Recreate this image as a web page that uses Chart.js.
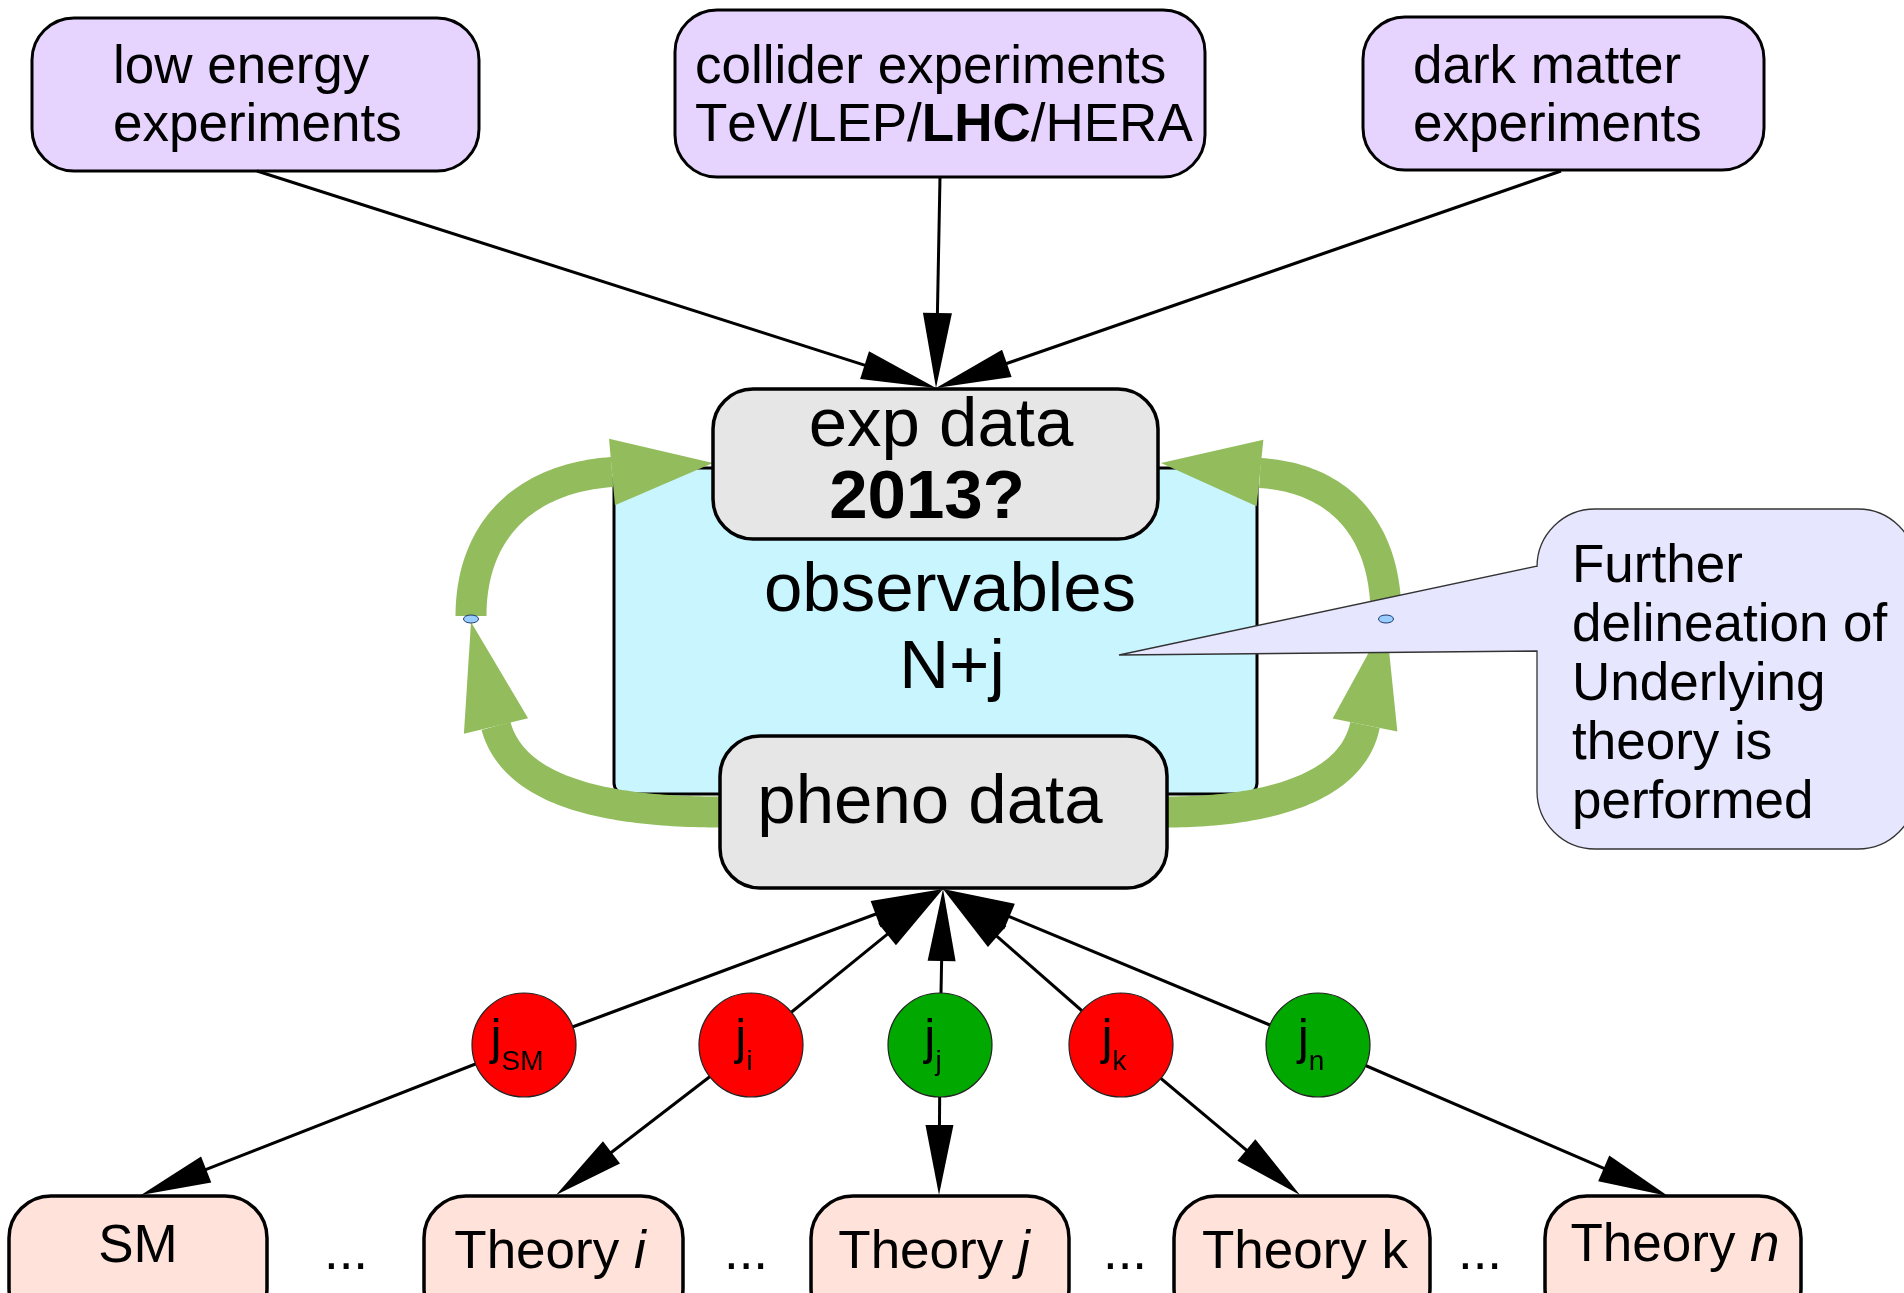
<!DOCTYPE html>
<html>
<head>
<meta charset="utf-8">
<title>exp data / pheno data</title>
<script src="https://cdn.jsdelivr.net/npm/chart.js@4.4.0/dist/chart.umd.min.js"></script>
<style>
  html, body { margin: 0; padding: 0; background: #fff; }
  #wrap { width: 1904px; height: 1293px; overflow: hidden; }
</style>
</head>
<body>
<div id="wrap"><canvas id="diagram" width="1904" height="1293"></canvas></div>
<script>
// text of the nodes (*bold*, _italic_)
var experiments = [['low energy', 'experiments'], ['collider experiments', 'TeV/LEP/*LHC*/HERA'], ['dark matter', 'experiments']];
var expData = ['exp data', '*2013?*'];
var observables = ['observables', 'N+j'];
var phenoData = ['pheno data'];
var note = ['Further', 'delineation of', 'Underlying', 'theory is', 'performed'];
var jets = ['SM', 'i', 'j', 'k', 'n'];
var jetAllowed = [false, false, true, false, true];
var theories = ['SM', 'Theory _i_', 'Theory _j_', 'Theory k', 'Theory _n_'];

// layout, in the chart's own units (x 0..1904, y 0..1293 downward)
var FONT = "'Liberation Sans', Arial, sans-serif";
var expBoxes = [[32, 18, 479, 171], [675, 10, 1205, 177], [1363, 17, 1764, 170]];
var expTextX = [113, 695, 1413];
var expFoot = [[257, 171], [940, 177], [1561, 171]];
var expTip = [936, 388];
var obsBox = [614, 468, 1257, 794];
var expBox = [713, 389, 1158, 539];
var phenoBox = [720, 736, 1167, 888];
var phenoTip = [943, 889];
var jetX = [524, 751, 940, 1121, 1318];
var jetY = 1045;
var theoryBoxes = [[9, 1196, 267, 1330], [424, 1196, 683, 1330], [811, 1196, 1069, 1330], [1174, 1196, 1430, 1330], [1545, 1196, 1801, 1330]];
var theoryTextX = [138, 550, 934, 1305, 1675];
var theoryBase = [1262, 1268, 1268, 1268, 1261];
var theoryTip = [[141, 1195], [556, 1195], [939, 1195], [1300, 1195], [1668, 1196]];
var dotsX = [346, 746, 1125, 1480];

var colors = {
  exp: '#e6d4ff', data: '#e6e6e6', obs: '#c9f5ff', note: '#e6e6ff',
  theory: '#ffe3da', green: '#93bd5d', red: '#ff0000', ok: '#00a800', knot: '#99ccff'
};

function runs(s) {
  return s.split(/(\*[^*]+\*|_[^_]+_)/).filter(function (p) { return p.length; }).map(function (p) {
    if (p[0] === '*') return { t: p.slice(1, -1), style: 'bold ' };
    if (p[0] === '_') return { t: p.slice(1, -1), style: 'italic ' };
    return { t: p, style: '' };
  });
}

function text(ctx, s, x, y, size, align) {
  var parts = runs(s), w = 0;
  ctx.fontKerning = 'none';
  parts.forEach(function (p) { ctx.font = p.style + size + 'px ' + FONT; p.w = ctx.measureText(p.t).width; w += p.w; });
  var cx = align === 'left' ? x : x - w / 2;
  ctx.textAlign = 'left';
  ctx.textBaseline = 'alphabetic';
  ctx.fillStyle = '#000';
  parts.forEach(function (p) { ctx.font = p.style + size + 'px ' + FONT; ctx.fillText(p.t, cx, y); cx += p.w; });
}

function roundBox(ctx, b, r, fill, lw) {
  ctx.beginPath();
  ctx.roundRect(b[0], b[1], b[2] - b[0], b[3] - b[1], r);
  ctx.fillStyle = fill;
  ctx.fill();
  ctx.lineWidth = lw;
  ctx.strokeStyle = '#000';
  ctx.stroke();
}

function arrow(ctx, a, b, len, wid) {
  var dx = b[0] - a[0], dy = b[1] - a[1], d = Math.hypot(dx, dy), ux = dx / d, uy = dy / d;
  var bx = b[0] - ux * len, by = b[1] - uy * len;
  ctx.strokeStyle = '#000';
  ctx.fillStyle = '#000';
  ctx.lineWidth = 3;
  ctx.beginPath(); ctx.moveTo(a[0], a[1]); ctx.lineTo(bx + ux * 4, by + uy * 4); ctx.stroke();
  ctx.beginPath();
  ctx.moveTo(b[0], b[1]);
  ctx.lineTo(bx - uy * wid / 2, by + ux * wid / 2);
  ctx.lineTo(bx + uy * wid / 2, by - ux * wid / 2);
  ctx.closePath();
  ctx.fill();
}

// thick curved green arrow: cubic bezier shaft with a triangular head
function greenArrow(ctx, P, w0, w1, tip, headW) {
  var n = 60, l = [], r = [];
  for (var i = 0; i <= n; i++) {
    var t = i / n, s = 1 - t;
    var x = s*s*s*P[0][0] + 3*s*s*t*P[1][0] + 3*s*t*t*P[2][0] + t*t*t*P[3][0];
    var y = s*s*s*P[0][1] + 3*s*s*t*P[1][1] + 3*s*t*t*P[2][1] + t*t*t*P[3][1];
    var dx = 3*s*s*(P[1][0]-P[0][0]) + 6*s*t*(P[2][0]-P[1][0]) + 3*t*t*(P[3][0]-P[2][0]);
    var dy = 3*s*s*(P[1][1]-P[0][1]) + 6*s*t*(P[2][1]-P[1][1]) + 3*t*t*(P[3][1]-P[2][1]);
    var d = Math.hypot(dx, dy) || 1, w = (w0 + (w1 - w0) * t) / 2;
    l.push([x - dy / d * w, y + dx / d * w]);
    r.push([x + dy / d * w, y - dx / d * w]);
  }
  ctx.fillStyle = colors.green;
  ctx.beginPath();
  l.forEach(function (p, k) { if (k) ctx.lineTo(p[0], p[1]); else ctx.moveTo(p[0], p[1]); });
  for (var k = r.length - 1; k >= 0; k--) ctx.lineTo(r[k][0], r[k][1]);
  ctx.closePath();
  ctx.fill();
  var b = P[3], hx = tip[0] - b[0], hy = tip[1] - b[1], hd = Math.hypot(hx, hy);
  hx /= hd; hy /= hd;
  ctx.beginPath();
  ctx.moveTo(tip[0], tip[1]);
  ctx.lineTo(b[0] - hy * headW / 2, b[1] + hx * headW / 2);
  ctx.lineTo(b[0] + hy * headW / 2, b[1] - hx * headW / 2);
  ctx.closePath();
  ctx.fill();
}

var diagram = {
  id: 'diagram',
  beforeDatasetsDraw: function (chart) {
    var ctx = chart.ctx, sx = chart.scales.x, sy = chart.scales.y;
    var P = function (p) { return [sx.getPixelForValue(p[0]), sy.getPixelForValue(p[1])]; };
    var B = function (b) { var a = P([b[0], b[1]]), c = P([b[2], b[3]]); return [a[0], a[1], c[0], c[1]]; };
    var X = function (v) { return sx.getPixelForValue(v); };
    var Y = function (v) { return sy.getPixelForValue(v); };
    ctx.save();

    // observables box
    roundBox(ctx, B(obsBox), 11, colors.obs, 3);
    text(ctx, observables[0], X(950), Y(611), 69, 'center');
    text(ctx, observables[1], X(952), Y(688), 69, 'center');

    // feedback loops
    greenArrow(ctx, [P([720, 812]), P([615, 812]), P([515, 795]), P([496, 726])], 31, 30, P([471, 622]), 66);
    greenArrow(ctx, [P([471, 616]), P([471, 530]), P([525, 478]), P([612, 472])], 31, 30, P([713, 463]), 67);
    greenArrow(ctx, [P([1167, 812]), P([1262, 812]), P([1352, 790]), P([1365, 725])], 31, 30, P([1386, 621]), 66);
    greenArrow(ctx, [P([1386, 616]), P([1386, 530]), P([1340, 478]), P([1260, 473])], 31, 30, P([1161, 463]), 67);

    // exp data and pheno data
    roundBox(ctx, B(expBox), 40, colors.data, 3.5);
    text(ctx, expData[0], X(941), Y(446), 69, 'center');
    text(ctx, expData[1], X(927), Y(518), 69, 'center');
    roundBox(ctx, B(phenoBox), 40, colors.data, 3.5);
    text(ctx, phenoData[0], X(930), Y(823), 69, 'center');

    // experiments feeding exp data
    expBoxes.forEach(function (b, i) {
      roundBox(ctx, B(b), 42, colors.exp, 3);
      text(ctx, experiments[i][0], X(expTextX[i]), Y(83), 53, 'left');
      text(ctx, experiments[i][1], X(expTextX[i]), Y(141), 53, 'left');
    });
    expFoot.forEach(function (f) { arrow(ctx, P(f), P(expTip), 75, 29); });

    // callout
    var c = B([1537, 509, 1916, 849]), r = 58, tip = P([1119, 655]), up = Y(566), lo = Y(651);
    ctx.beginPath();
    ctx.moveTo(c[0] + r, c[1]);
    ctx.lineTo(c[2] - r, c[1]);
    ctx.arcTo(c[2], c[1], c[2], c[1] + r, r);
    ctx.lineTo(c[2], c[3] - r);
    ctx.arcTo(c[2], c[3], c[2] - r, c[3], r);
    ctx.lineTo(c[0] + r, c[3]);
    ctx.arcTo(c[0], c[3], c[0], c[3] - r, r);
    ctx.lineTo(c[0], lo);
    ctx.lineTo(tip[0], tip[1]);
    ctx.lineTo(c[0], up);
    ctx.lineTo(c[0], c[1] + r);
    ctx.arcTo(c[0], c[1], c[0] + r, c[1], r);
    ctx.closePath();
    ctx.fillStyle = colors.note;
    ctx.fill();
    ctx.lineWidth = 1.3;
    ctx.strokeStyle = '#333';
    ctx.stroke();
    var noteBase = [582, 641, 700, 759, 818];
    note.forEach(function (s, i) { text(ctx, s, X(1572), Y(noteBase[i]), 53, 'left'); });

    // loop midpoints
    [[471, 619], [1386, 619]].forEach(function (p) {
      var q = P(p);
      ctx.beginPath();
      ctx.ellipse(q[0], q[1], 7.5, 4, 0, 0, Math.PI * 2);
      ctx.fillStyle = colors.knot;
      ctx.fill();
      ctx.lineWidth = 1;
      ctx.strokeStyle = '#1c3c6c';
      ctx.stroke();
    });

    // theories
    theoryBoxes.forEach(function (b, i) {
      roundBox(ctx, B(b), 42, colors.theory, 3.5);
      text(ctx, theories[i], X(theoryTextX[i]), Y(theoryBase[i]), 53, 'center');
    });
    dotsX.forEach(function (x) { text(ctx, '...', X(x), Y(1269), 53, 'center'); });

    // jets to pheno data and to theories
    jets.forEach(function (j, i) {
      arrow(ctx, P([jetX[i], jetY]), P(phenoTip), 72, 28);
      arrow(ctx, P([jetX[i], jetY]), P(theoryTip[i]), 70, 28);
    });
    ctx.restore();
  },
  afterDatasetsDraw: function (chart) {
    var ctx = chart.ctx, sx = chart.scales.x, sy = chart.scales.y;
    ctx.save();
    ctx.fillStyle = '#000';
    ctx.textBaseline = 'alphabetic';
    ctx.textAlign = 'left';
    jets.forEach(function (j, i) {
      ctx.font = '50px ' + FONT;
      var wj = ctx.measureText('j').width;
      ctx.font = '28px ' + FONT;
      var ws = ctx.measureText(j).width;
      var x = sx.getPixelForValue(jetX[i]) - (wj + ws) / 2 - 7;
      var y = sy.getPixelForValue(jetY);
      ctx.font = '50px ' + FONT;
      ctx.fillText('j', x, y + 9);
      ctx.font = '28px ' + FONT;
      ctx.fillText(j, x + wj, y + 25);
    });
    ctx.restore();
  }
};

new Chart(document.getElementById('diagram'), {
  type: 'scatter',
  data: {
    datasets: [{
      label: 'jets',
      data: jets.map(function (j, i) { return { x: jetX[i], y: jetY }; }),
      pointRadius: 52,
      pointBackgroundColor: jetAllowed.map(function (ok) { return ok ? colors.ok : colors.red; }),
      pointBorderColor: '#222',
      pointBorderWidth: 1.2,
      clip: false
    }]
  },
  options: {
    responsive: false,
    devicePixelRatio: 1,
    animation: false,
    events: [],
    layout: { padding: 0, autoPadding: false },
    plugins: { legend: { display: false }, tooltip: { enabled: false } },
    scales: {
      x: { type: 'linear', min: 0, max: 1904, display: false },
      y: { type: 'linear', min: 0, max: 1293, reverse: true, display: false }
    }
  },
  plugins: [diagram]
});
</script>
</body>
</html>
